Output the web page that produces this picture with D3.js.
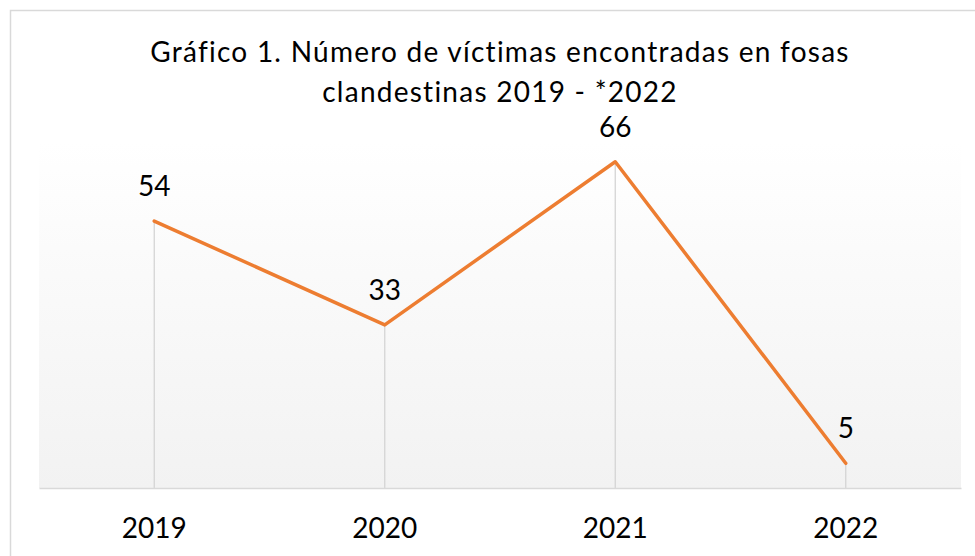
<!DOCTYPE html>
<html>
<head>
<meta charset="utf-8">
<script src="https://cdn.jsdelivr.net/npm/d3@7"></script>
<style>
  html, body { margin: 0; padding: 0; background: #fff; }
  svg { display: block; }
  text { font-family: Lato, "Open Sans", sans-serif; fill: #000; font-variant-ligatures: none; }
</style>
</head>
<body>
<svg id="chart" width="975" height="556"></svg>
<script>
const titleLines = ["Gráfico 1. Número de víctimas encontradas en fosas", "clandestinas 2019 - *2022"];
const years = ["2019", "2020", "2021", "2022"];
const victims = [54, 33, 66, 5];
const yDomain = [0, 70];

const W = 975, H = 556;
const plot = { left: 39, right: 961, top: 142, bottom: 488 };
const svg = d3.select("#chart");

// defs: gradient for plot area
const defs = svg.append("defs");
const grad = defs.append("linearGradient").attr("id", "pg")
  .attr("x1", 0).attr("y1", 0).attr("x2", 0).attr("y2", 1);
grad.append("stop").attr("offset", "0%").attr("stop-color", "#ffffff");
grad.append("stop").attr("offset", "100%").attr("stop-color", "#f2f2f2");

// outer chart border
svg.append("rect")
  .attr("x", 10.5).attr("y", 10.5)
  .attr("width", 1000).attr("height", 1000)
  .attr("fill", "#fff").attr("stroke", "#d9d9d9").attr("stroke-width", 1.5);

const x = d3.scaleBand().domain(years).range([plot.left, plot.right]).padding(0);
const y = d3.scaleLinear().domain(yDomain).range([plot.bottom, plot.top]);
const cx = d => x(d) + x.bandwidth() / 2;

// plot area background
svg.append("rect")
  .attr("x", plot.left).attr("y", plot.top)
  .attr("width", plot.right - plot.left).attr("height", plot.bottom - plot.top)
  .attr("fill", "url(#pg)");

// title
svg.append("text")
  .attr("x", 500).attr("y", 62)
  .attr("text-anchor", "middle").attr("font-size", 28)
  .attr("letter-spacing", 1.25)
  .selectAll("tspan").data(titleLines).join("tspan")
  .attr("x", 500).attr("dy", (d, i) => i === 0 ? 0 : 40)
  .text(d => d);

// drop lines
svg.append("g").selectAll("line").data(years).join("line")
  .attr("x1", d => cx(d)).attr("x2", d => cx(d))
  .attr("y1", (d, i) => y(victims[i])).attr("y2", y(0))
  .attr("stroke", "#d4d4d4").attr("stroke-width", 1.3);

// x axis
const xAxis = d3.axisBottom(x).tickSize(0).tickPadding(0);
const gx = svg.append("g").attr("transform", `translate(0,${plot.bottom})`).call(xAxis);
gx.select(".domain").attr("stroke", "#d9d9d9").attr("stroke-width", 1.5);
gx.selectAll(".tick text")
  .attr("font-size", 28).attr("font-family", "Lato, sans-serif")
  .attr("fill", "#000").attr("dy", 0).attr("y", 50);

// line
const line = d3.line().x((d, i) => cx(years[i])).y(d => y(d));
svg.append("path").datum(victims)
  .attr("d", line)
  .attr("fill", "none").attr("stroke", "#ED7D31")
  .attr("stroke-width", 3.5).attr("stroke-linejoin", "round").attr("stroke-linecap", "round");

// data labels
svg.append("g").selectAll("text").data(victims).join("text")
  .attr("x", (d, i) => cx(years[i]))
  .attr("y", d => y(d) - 25)
  .attr("text-anchor", "middle").attr("font-size", 28)
  .text(d => d);
</script>
</body>
</html>
